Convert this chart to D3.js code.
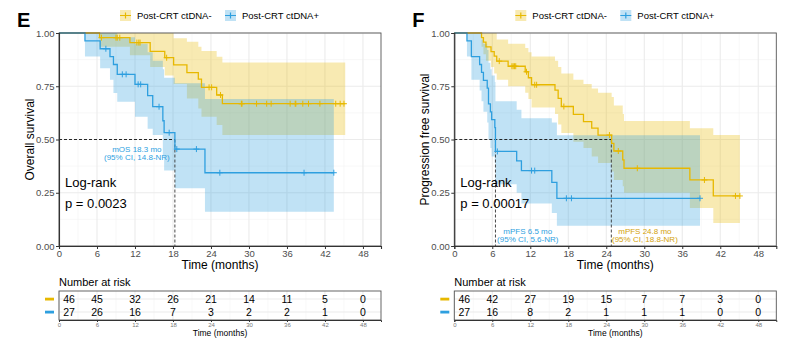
<!DOCTYPE html>
<meta charset="utf-8">
<style>
body { margin: 0; background: #fff; }
text { font-family: "Liberation Sans", Arial, sans-serif; }
</style>
<body>
<script src="https://cdn.jsdelivr.net/npm/d3@7"></script>
<script>

// group names and colours
var groups = ["Post-CRT ctDNA-", "Post-CRT ctDNA+"];
var colNeg = "#E7B800", colPos = "#2E9FDF";
var timeTicks = [0, 6, 12, 18, 24, 30, 36, 42, 48];
var survTicks = [0, 0.25, 0.5, 0.75, 1];

// overall survival, ctDNA-   [time, surv, lower, upper]
var osNeg = [[0,1,1,1],[6.4,0.978,0.936,1],[11.2,0.955,0.896,1],[14.4,0.914,0.84,1],
  [16.7,0.884,0.80,1],[18.1,0.85,0.76,0.975],[20.2,0.814,0.693,0.959],[22.0,0.783,0.646,0.936],
  [22.5,0.745,0.607,0.915],[24.9,0.709,0.568,0.889],[25.8,0.668,0.521,0.862]];
var osNegEnd = 45.2;
var osNegCens = [6.7,9.0,9.2,9.6,12.3,12.6,12.8,17.0,23.7,24.1,25.5,28.8,28.9,31.2,32.8,33.5,
  36.5,37.3,37.4,38.5,39.4,41.2,43.7,44.4,45.0];

// overall survival, ctDNA+
var osPos = [[0,1,1,1],[4.1,0.963,0.89,1],[6.5,0.926,0.834,1],[8.05,0.889,0.78,1],
  [8.6,0.852,0.718,1],[9.2,0.806,0.677,0.98],[12.0,0.759,0.607,0.95],[14.0,0.706,0.55,0.91],
  [14.8,0.654,0.521,0.87],[16.4,0.588,0.42,0.83],[16.6,0.532,0.354,0.79],[18.3,0.455,0.271,0.764],
  [23.05,0.344,0.161,0.69]];
var osPosEnd = 43.4;
var osPosCens = [7.4,10.0,10.6,12.5,12.9,15.8,17.4,18.6,21.7,25.4,38.7,43.4];

// progression free survival, ctDNA-
var pfsNeg = [[0,1,1,1],[4.3,0.978,0.936,1],[4.6,0.957,0.90,1],[5.0,0.935,0.87,1],
  [5.8,0.913,0.84,1],[6.3,0.891,0.81,1],[6.7,0.868,0.78,0.97],[8.5,0.844,0.75,0.95],
  [11.2,0.818,0.72,0.93],[11.7,0.79,0.69,0.91],[12.2,0.757,0.65,0.89],[15.9,0.732,0.62,0.87],
  [16.4,0.693,0.57,0.84],[16.9,0.655,0.53,0.81],[18.8,0.618,0.49,0.78],[20.4,0.584,0.46,0.76],
  [21.7,0.553,0.42,0.74],[22.7,0.521,0.39,0.72],[24.85,0.482,0.35,0.70],[25.2,0.446,0.31,0.66],
  [26.6,0.404,0.28,0.62],[26.8,0.365,0.25,0.587],[37.2,0.31,0.178,0.553],[40.9,0.235,0.108,0.521]];
var pfsNegEnd = 45.1;
var pfsNegCens = [7.1,9.1,9.3,9.5,9.7,11.4,12.7,13.0,17.3,24.5,25.9,28.9,39.5,44.4,45.1];

// progression free survival, ctDNA+
var pfsPos = [[0,1,1,1],[2.0,0.963,0.89,1],[2.7,0.889,0.78,1],[4.0,0.852,0.73,1],
  [4.3,0.815,0.68,0.97],[4.6,0.778,0.63,0.95],[5.2,0.741,0.58,0.92],[5.4,0.667,0.50,0.86],
  [5.7,0.63,0.46,0.83],[5.9,0.593,0.42,0.80],[6.4,0.556,0.39,0.77],[6.5,0.444,0.29,0.68],
  [9.85,0.40,0.25,0.64],[10.6,0.354,0.20,0.60],[15.4,0.299,0.155,0.58],[16.2,0.224,0.095,0.52]];
var pfsPosEnd = 38.8;
var pfsPosCens = [6.8,12.2,12.7,17.7,18.5,38.8];

// number at risk tables
var osRiskNeg = [46, 45, 32, 26, 21, 14, 11, 5, 0];
var osRiskPos = [27, 26, 16, 7, 3, 2, 2, 1, 0];
var pfsRiskNeg = [46, 42, 27, 19, 15, 7, 7, 3, 0];
var pfsRiskPos = [27, 16, 8, 2, 1, 1, 1, 0, 0];

var svg = d3.select("body").append("svg")
  .attr("width", 809).attr("height", 351);

function drawPanel(p) {
  var x0 = p.x0, w = 322, top = 33, bottom = 246;
  var x = d3.scaleLinear().domain([0, 50.85]).range([x0, x0 + w]);
  var y = d3.scaleLinear().domain([0, 1]).range([bottom, top]);
  var g = svg.append("g");

  // grid
  d3.range(3, 51, 6).forEach(function(t) {
    g.append("line").attr("x1", x(t)).attr("x2", x(t)).attr("y1", top).attr("y2", bottom)
      .attr("stroke", "#f4f4f4").attr("stroke-width", 0.6);
  });
  d3.range(0.125, 1, 0.25).forEach(function(s) {
    g.append("line").attr("x1", x0).attr("x2", x0 + w).attr("y1", y(s)).attr("y2", y(s))
      .attr("stroke", "#f4f4f4").attr("stroke-width", 0.6);
  });
  timeTicks.forEach(function(t) {
    g.append("line").attr("x1", x(t)).attr("x2", x(t)).attr("y1", top).attr("y2", bottom)
      .attr("stroke", "#ebebeb").attr("stroke-width", 1.1);
  });
  survTicks.forEach(function(s) {
    g.append("line").attr("x1", x0).attr("x2", x0 + w).attr("y1", y(s)).attr("y2", y(s))
      .attr("stroke", "#ebebeb").attr("stroke-width", 1.1);
  });

  var curves = [
    {d: p.neg, end: p.negEnd, cens: p.negCens, col: colNeg},
    {d: p.pos, end: p.posEnd, cens: p.posCens, col: colPos}
  ];

  // confidence bands
  curves.forEach(function(c) {
    var pts = c.d.concat([[c.end].concat(c.d[c.d.length - 1].slice(1))]);
    g.append("path").datum(pts)
      .attr("fill", c.col).attr("fill-opacity", 0.3)
      .attr("d", d3.area().curve(d3.curveStepAfter)
        .x(function(d) { return x(d[0]); })
        .y0(function(d) { return y(d[2]); })
        .y1(function(d) { return y(d[3]); }));
  });

  // median lines
  g.append("line").attr("x1", x(0)).attr("x2", x(p.medLen)).attr("y1", y(0.5)).attr("y2", y(0.5))
    .attr("stroke", "#111").attr("stroke-width", 0.9).attr("stroke-dasharray", "3,2");
  p.medians.forEach(function(m) {
    g.append("line").attr("x1", x(m)).attr("x2", x(m)).attr("y1", y(0.5)).attr("y2", y(0))
      .attr("stroke", "#333").attr("stroke-width", 0.9).attr("stroke-dasharray", "3,2");
  });

  // curves and censor marks
  curves.forEach(function(c) {
    var pts = c.d.concat([[c.end].concat(c.d[c.d.length - 1].slice(1))]);
    g.append("path").datum(pts)
      .attr("fill", "none").attr("stroke", c.col).attr("stroke-width", 1.3)
      .attr("d", d3.line().curve(d3.curveStepAfter)
        .x(function(d) { return x(d[0]); })
        .y(function(d) { return y(d[1]); }));
    c.cens.forEach(function(t) {
      var s = c.d.filter(function(d) { return d[0] <= t; }).pop()[1];
      g.append("path")
        .attr("d", "M" + (x(t) - 3) + "," + y(s) + "h6M" + x(t) + "," + (y(s) - 3) + "v6")
        .attr("stroke", c.col).attr("stroke-width", 1);
    });
  });

  // frame and axes
  g.append("rect").attr("x", x0).attr("y", top).attr("width", w).attr("height", bottom - top)
    .attr("fill", "none").attr("stroke", "#555").attr("stroke-width", 0.9);
  var xa = g.append("g").attr("transform", "translate(0," + bottom + ")")
    .call(d3.axisBottom(x).tickValues(timeTicks).tickSize(3).tickPadding(1));
  var ya = g.append("g").attr("transform", "translate(" + x0 + ",0)")
    .call(d3.axisLeft(y).tickValues(survTicks).tickFormat(d3.format(".2f")).tickSize(3).tickPadding(1.5));
  [xa, ya].forEach(function(a) {
    a.select(".domain").attr("stroke", "#333").attr("stroke-width", 1.1);
    a.selectAll(".tick line").attr("stroke", "#333");
    a.selectAll("text").attr("fill", "#4d4d4d").style("font-size", "9.5px")
      .style("font-family", "Liberation Sans, Arial, sans-serif");
  });

  g.append("text").attr("x", x(0) + 161).attr("y", 268.5).attr("text-anchor", "middle")
    .style("font-size", "12px").text("Time (months)");
  g.append("text").attr("transform", "translate(" + (x0 - 25) + "," + ((top + bottom) / 2) + ") rotate(-90)")
    .attr("text-anchor", "middle").style("font-size", "12px").text(p.ylab);
  g.append("text").attr("x", x0 - 42).attr("y", 27).style("font-size", "20px")
    .style("font-weight", "bold").text(p.letter);

  g.append("text").attr("x", x0 + 6).attr("y", 187).style("font-size", "13px").text("Log-rank");
  g.append("text").attr("x", x0 + 6).attr("y", 208).style("font-size", "13px").text(p.pval);

  p.notes.forEach(function(n) {
    n.lines.forEach(function(l, i) {
      g.append("text").attr("x", x(n.t)).attr("y", n.y + i * 7.5).attr("text-anchor", "middle")
        .attr("fill", n.col).style("font-size", "8px").text(l);
    });
  });

  // legend
  [colNeg, colPos].forEach(function(col, i) {
    var lx = x0 + 61 + i * 105;
    g.append("rect").attr("x", lx).attr("y", 10).attr("width", 11).attr("height", 11)
      .attr("fill", col).attr("fill-opacity", 0.3);
    g.append("path").attr("d", "M" + lx + ",15.5h11M" + (lx + 5.5) + ",12.5v6")
      .attr("stroke", col).attr("stroke-width", 1.2);
    g.append("text").attr("x", lx + 17).attr("y", 19).style("font-size", "9.5px").text(groups[i]);
  });

  // number at risk table
  var tTop = 291, tBot = 320, rows = [299, 312];
  g.append("text").attr("x", x0).attr("y", 286).style("font-size", "11px").text("Number at risk");
  d3.range(3, 51, 6).forEach(function(t) {
    g.append("line").attr("x1", x(t)).attr("x2", x(t)).attr("y1", tTop).attr("y2", tBot)
      .attr("stroke", "#f4f4f4").attr("stroke-width", 0.6);
  });
  timeTicks.forEach(function(t) {
    g.append("line").attr("x1", x(t)).attr("x2", x(t)).attr("y1", tTop).attr("y2", tBot)
      .attr("stroke", "#ebebeb").attr("stroke-width", 1);
  });
  rows.forEach(function(ry) {
    g.append("line").attr("x1", x0).attr("x2", x0 + w).attr("y1", ry).attr("y2", ry)
      .attr("stroke", "#ebebeb").attr("stroke-width", 1);
  });
  g.append("rect").attr("x", x0).attr("y", tTop).attr("width", w).attr("height", tBot - tTop)
    .attr("fill", "none").attr("stroke", "#555").attr("stroke-width", 0.9);
  [p.riskNeg, p.riskPos].forEach(function(r, i) {
    g.append("rect").attr("x", x0 - 14).attr("y", rows[i] - 1.3).attr("width", 9).attr("height", 2.8)
      .attr("fill", i ? colPos : colNeg);
    r.forEach(function(v, j) {
      var t = timeTicks[j];
      g.append("text").attr("x", t === 0 ? x(t) + 10 : x(t)).attr("y", rows[i] + 3.8)
        .attr("text-anchor", "middle").style("font-size", "10.5px").text(v);
    });
  });
  var ta = g.append("g").attr("transform", "translate(0," + tBot + ")")
    .call(d3.axisBottom(x).tickValues(timeTicks).tickSize(2).tickPadding(1));
  ta.select(".domain").attr("stroke", "#333");
  ta.selectAll(".tick line").attr("stroke", "#333");
  ta.selectAll("text").attr("fill", "#777").style("font-size", "6px")
    .style("font-family", "Liberation Sans, Arial, sans-serif");
  g.append("text").attr("x", x(0) + 161).attr("y", 336).attr("text-anchor", "middle")
    .style("font-size", "8.5px").text("Time (months)");
}

drawPanel({
  x0: 59, letter: "E", ylab: "Overall survival", pval: "p = 0.0023",
  neg: osNeg, negEnd: osNegEnd, negCens: osNegCens,
  pos: osPos, posEnd: osPosEnd, posCens: osPosCens,
  medLen: 18.3, medians: [18.3],
  notes: [{t: 12.3, y: 152, col: colPos, lines: ["mOS 18.3 mo", "(95% CI, 14.8-NR)"]}],
  riskNeg: osRiskNeg, riskPos: osRiskPos
});

drawPanel({
  x0: 454.3, letter: "F", ylab: "Progression free survival", pval: "p = 0.00017",
  neg: pfsNeg, negEnd: pfsNegEnd, negCens: pfsNegCens,
  pos: pfsPos, posEnd: pfsPosEnd, posCens: pfsPosCens,
  medLen: 24.8, medians: [6.5, 24.8],
  notes: [{t: 11.6, y: 234, col: colPos, lines: ["mPFS 6.5 mo", "(95% CI, 5.6-NR)"]},
          {t: 30.1, y: 234, col: "#D4A20A", lines: ["mPFS 24.8 mo", "(95% CI, 18.8-NR)"]}],
  riskNeg: pfsRiskNeg, riskPos: pfsRiskPos
});

</script>
</body>
